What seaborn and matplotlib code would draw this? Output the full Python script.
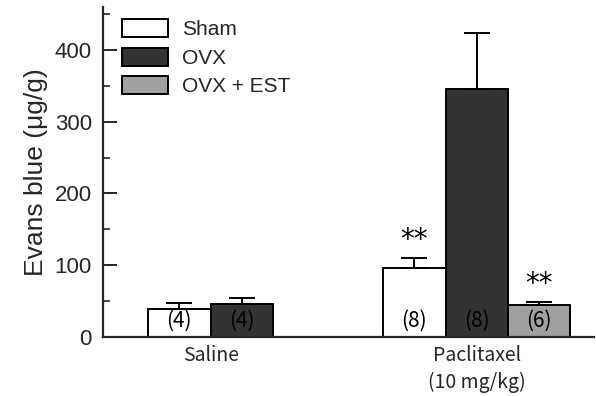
import numpy as np
import pandas as pd
import matplotlib
matplotlib.use("Agg")
import matplotlib.pyplot as plt
import seaborn as sns
from matplotlib.patches import Patch

# ---- data ----
conditions = ["Saline", "Paclitaxel"]
tick_labels = ["Saline", "Paclitaxel\n(10 mg/kg)"]
groups = ["Sham", "OVX", "OVX + EST"]
sham_mean = [39, 96]
sham_sem = [8, 14]
sham_n = ["(4)", "(8)"]
ovx_mean = [45, 345]
ovx_sem = [9, 79]
ovx_n = ["(4)", "(8)"]
est_mean = [np.nan, 44]
est_sem = [np.nan, 5]
est_n = ["", "(6)"]
signif = {("Paclitaxel", "Sham"): "**", ("Paclitaxel", "OVX + EST"): "**"}

sns.set_style("ticks")
plt.rcParams["font.family"] = ["Liberation Sans", "DejaVu Sans"]

means = {"Sham": sham_mean, "OVX": ovx_mean, "OVX + EST": est_mean}
sems = {"Sham": sham_sem, "OVX": ovx_sem, "OVX + EST": est_sem}
ns = {"Sham": sham_n, "OVX": ovx_n, "OVX + EST": est_n}

# layout: group centres in bar-width units
group_centres = [0.0, 4.26]
rows = []
for ci, cond in enumerate(conditions):
    present = [g for g in groups if not np.isnan(means[g][ci])]
    k = len(present)
    for j, g in enumerate(present):
        rows.append({"cond": cond, "group": g,
                     "pos": group_centres[ci] + (j - (k - 1) / 2),
                     "value": means[g][ci], "sem": sems[g][ci], "n": ns[g][ci]})
df = pd.DataFrame(rows)

palette = {"Sham": "#ffffff", "OVX": "#333333", "OVX + EST": "#a0a0a0"}

fig = plt.figure(figsize=(5.96, 3.96), dpi=100)
ax = fig.add_axes([0.173, 0.150, 0.824, 0.832])

sns.barplot(data=df, x="pos", y="value", hue="group", hue_order=groups,
            palette=palette, native_scale=True, dodge=False, width=1.0,
            errorbar=None, edgecolor="black", linewidth=1.4, ax=ax,
            legend=False)

ax.errorbar(df["pos"], df["value"], yerr=[np.zeros(len(df)), df["sem"]],
            fmt="none", ecolor="black", elinewidth=1.4, capsize=9.4,
            capthick=1.4, zorder=1)

cjk = ["Noto Sans CJK JP", "DejaVu Sans"]
for _, r in df.iterrows():
    ax.text(r["pos"], 22, r["n"], ha="center", va="center", fontsize=15,
            color="black", family=cjk)
    key = (r["cond"], r["group"])
    if key in signif:
        ax.text(r["pos"], r["value"] + r["sem"] + 25, signif[key],
                ha="center", va="center", fontsize=20, color="black",
                family=["DejaVu Sans"])

ax.set_ylim(0, 460)
ax.set_xlim(-1.72, 6.14)
ax.set_yticks([0, 100, 200, 300, 400])
ax.set_yticks([50, 150, 250, 350, 450], minor=True)
ax.tick_params(axis="y", which="major", direction="in", length=10, width=1.4,
               labelsize=16, pad=8)
ax.tick_params(axis="y", which="minor", direction="in", length=5, width=1.2)
ax.set_xticks(group_centres)
ax.set_xticklabels(tick_labels, fontsize=14, family=cjk, linespacing=1.35)
ax.tick_params(axis="x", length=0, pad=6)
ax.set_xlabel("")
ax.set_ylabel("Evans blue (μg/g)", fontsize=19, labelpad=5)
sns.despine(ax=ax)
for s in ["left", "bottom"]:
    ax.spines[s].set_linewidth(1.6)

handles = [Patch(facecolor=palette[g], edgecolor="black", linewidth=1.4, label=g)
           for g in groups]
leg = ax.legend(handles=handles, loc="upper left", bbox_to_anchor=(0.0, 1.02),
                frameon=False, fontsize=15, handlelength=2.2, handleheight=0.95,
                labelspacing=0.4, handletextpad=0.7)

fig.savefig("out.png", dpi=100)
